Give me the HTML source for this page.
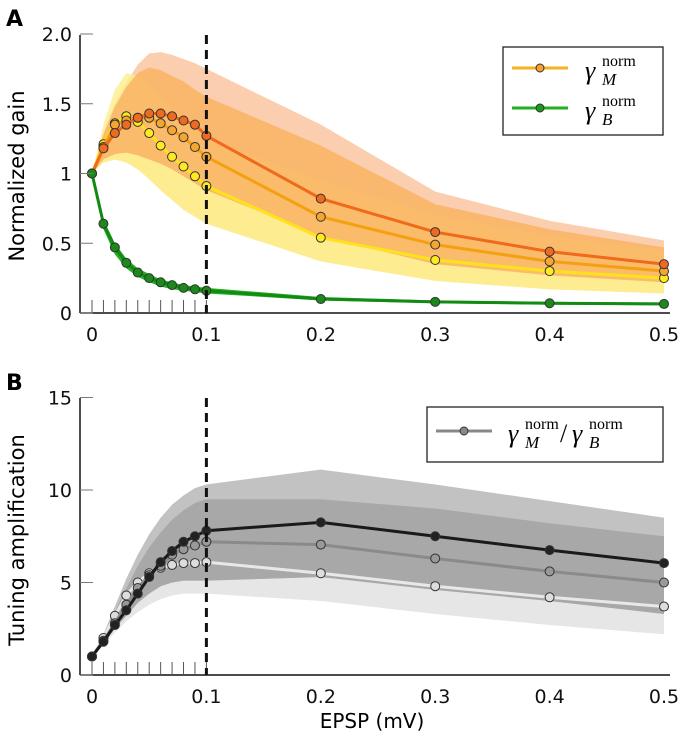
<!DOCTYPE html>
<html><head><meta charset="utf-8"><style>
body{margin:0;background:#fff}
svg{display:block;font-family:"DejaVu Sans","Liberation Sans",sans-serif}
.tk{font-size:19px;fill:#111}
</style></head><body>
<svg id="s" width="685" height="735" viewBox="0 0 685 735">
<text x="6" y="26" font-size="22" font-weight="bold">A</text>
<text x="6" y="390" font-size="22" font-weight="bold">B</text>
<g id="ga"></g>
<g id="gb"></g>
<text x="24" y="176" font-size="21" transform="rotate(-90 24 176)" text-anchor="middle">Normalized gain</text>
<text x="24" y="540" font-size="21" transform="rotate(-90 24 540)" text-anchor="middle">Tuning amplification</text>
<text x="372" y="728" font-size="20" text-anchor="middle">EPSP (mV)</text>
<g>
<rect x="503" y="47" width="160" height="88" fill="#fff" stroke="#222" stroke-width="1.3"/>
<line x1="512" y1="68" x2="568" y2="68" stroke="#f7b220" stroke-width="3"/>
<circle cx="540" cy="68" r="4" fill="#f7a030" stroke="#333"/>
<text x="585" y="79" font-family="Liberation Serif,serif" font-style="italic" font-size="26">γ</text>
<text x="602" y="85" font-family="Liberation Serif,serif" font-style="italic" font-size="17">M</text>
<text x="602" y="66" font-family="Liberation Serif,serif" font-size="16">norm</text>
<line x1="512" y1="108" x2="568" y2="108" stroke="#22b022" stroke-width="3"/>
<circle cx="540" cy="108" r="4" fill="#1a9a1a" stroke="#333"/>
<text x="585" y="119" font-family="Liberation Serif,serif" font-style="italic" font-size="26">γ</text>
<text x="602" y="125" font-family="Liberation Serif,serif" font-style="italic" font-size="17">B</text>
<text x="602" y="106" font-family="Liberation Serif,serif" font-size="16">norm</text>
</g>
<g>
<rect x="427" y="407" width="236" height="55" fill="#fff" stroke="#222" stroke-width="1.3"/>
<line x1="436" y1="431" x2="492" y2="431" stroke="#888" stroke-width="3"/>
<circle cx="464" cy="431" r="4" fill="#888" stroke="#333"/>
<text x="508" y="442" font-family="Liberation Serif,serif" font-style="italic" font-size="26">γ</text>
<text x="525" y="448" font-family="Liberation Serif,serif" font-style="italic" font-size="17">M</text>
<text x="525" y="429" font-family="Liberation Serif,serif" font-size="16">norm</text>
<text x="560" y="442" font-family="Liberation Serif,serif" font-size="26">/</text>
<text x="572" y="442" font-family="Liberation Serif,serif" font-style="italic" font-size="26">γ</text>
<text x="589" y="448" font-family="Liberation Serif,serif" font-style="italic" font-size="17">B</text>
<text x="589" y="429" font-family="Liberation Serif,serif" font-size="16">norm</text>
</g>
</svg>
<script>
const xs=[0,0.01,0.02,0.03,0.04,0.05,0.06,0.07,0.08,0.09,0.1,0.2,0.3,0.4,0.5];
const xTicks=[0,0.1,0.2,0.3,0.4,0.5];
const xTickLabels=["0","0.1","0.2","0.3","0.4","0.5"];
// Panel A
const aTicks=[0,0.5,1,1.5,2];
const aTickLabels=["0","0.5","1","1.5","2.0"];
const orangeDark=[1,1.18,1.29,1.35,1.40,1.43,1.43,1.41,1.38,1.35,1.27,0.82,0.58,0.44,0.35];
const orangeMid=[1,1.19,1.35,1.38,1.40,1.40,1.36,1.31,1.26,1.19,1.12,0.69,0.49,0.37,0.30];
const yellow=[1,1.21,1.36,1.41,1.37,1.29,1.20,1.12,1.05,0.98,0.91,0.54,0.38,0.30,0.25];
const green=[1,0.64,0.47,0.36,0.29,0.25,0.22,0.20,0.18,0.17,0.16,0.10,0.08,0.07,0.065];
const paleOrangeUp=[1,1.3,1.5,1.65,1.78,1.86,1.87,1.85,1.82,1.79,1.75,1.35,0.87,0.66,0.52];
const orangeUp=[1,1.28,1.48,1.62,1.72,1.76,1.74,1.7,1.66,1.6,1.55,1.2,0.78,0.6,0.47];
const orangeLow=[1,1.1,1.14,1.15,1.13,1.1,1.07,1.03,0.98,0.93,0.88,0.55,0.35,0.27,0.22];
const yellowUp=[1,1.35,1.6,1.72,1.7,1.64,1.55,1.47,1.4,1.33,1.25,0.95,0.7,0.55,0.45];
const yellowLow=[1,1.08,1.1,1.08,1.03,0.96,0.88,0.81,0.74,0.69,0.64,0.37,0.23,0.17,0.14];
const greenUp=[1,0.67,0.5,0.39,0.32,0.28,0.24,0.22,0.2,0.19,0.18,0.115,0.09,0.08,0.075];
const greenLow=[1,0.6,0.42,0.32,0.26,0.22,0.19,0.17,0.16,0.15,0.14,0.09,0.07,0.06,0.055];
// Panel B
const bTicks=[0,5,10,15];
const bTickLabels=["0","5","10","15"];
const ampDark=[1,1.8,2.7,3.5,4.4,5.3,6.1,6.7,7.2,7.5,7.8,8.25,7.5,6.75,6.05];
const ampMid=[1,1.85,2.8,3.8,4.7,5.4,5.9,6.5,6.8,7.0,7.2,7.05,6.3,5.6,5.0];
const ampLight=[1,2.0,3.2,4.3,5.0,5.5,5.8,5.95,6.05,6.05,6.1,5.5,4.8,4.2,3.7];
const ampOuterUp=[1,2.2,3.7,5.2,6.5,7.6,8.5,9.2,9.7,10.1,10.3,11.1,10.3,9.4,8.5];
const ampInnerUp=[1,2.1,3.4,4.7,5.9,6.9,7.7,8.4,8.9,9.3,9.5,9.5,9.0,8.2,7.5];
const ampInnerLow=[1,1.7,2.5,3.2,3.9,4.4,4.8,5.0,5.1,5.1,5.1,5.3,4.6,4.0,3.3];
const ampOuterLow=[1,1.6,2.3,2.9,3.4,3.8,4.1,4.3,4.4,4.4,4.4,4.0,3.3,2.7,2.2];

const NS="http://www.w3.org/2000/svg";
const X=v=>92+v*1144;
const YA=v=>313-v*139.5;
const YB=v=>675-v*18.5;
function mk(p,t,a){const e=document.createElementNS(NS,t);for(const k in a)e.setAttribute(k,a[k]);p.appendChild(e);return e;}
function band(g,up,lo,Y,fill,name){
  let d=xs.map((x,i)=>(i?'L':'M')+X(x)+','+Y(up[i])).join('')+xs.slice().reverse().map((x,j)=>{const i=xs.length-1-j;return 'L'+X(x)+','+Y(lo[i]);}).join('')+'Z';
  const e=mk(g,'path',{d:d,fill:fill});
  
  
}
function series(g,vals,Y,stroke,dot,name){
  const e=mk(g,'path',{d:xs.map((x,i)=>(i?'L':'M')+X(x)+','+Y(vals[i])).join(''),fill:'none',stroke:stroke,'stroke-width':3});
  
  
  xs.forEach((x,i)=>{const c=mk(g,'circle',{cx:X(x),cy:Y(vals[i]),r:4.5,fill:dot,stroke:'#333','stroke-width':1});
    
    });
}
function axes(g,Y,ticks,labels,top){
  mk(g,'line',{x1:80,y1:top,x2:80,y2:Y(0),stroke:'#111','stroke-width':1.5});
  mk(g,'line',{x1:80,y1:Y(0),x2:670,y2:Y(0),stroke:'#111','stroke-width':1.5});
  ticks.forEach((t,i)=>{mk(g,'line',{x1:80,y1:Y(t),x2:93,y2:Y(t),stroke:'#777','stroke-width':1});
    const tx=mk(g,'text',{x:72,y:Y(t)+7,'text-anchor':'end','class':'tk'});tx.textContent=labels[i];
    
    });
  xTicks.forEach((t,i)=>{const tx=mk(g,'text',{x:X(t),y:Y(0)+28,'text-anchor':'middle','class':'tk'});tx.textContent=xTickLabels[i];
    
    });
  xs.slice(0,11).forEach(x=>mk(g,'line',{x1:X(x),y1:Y(0),x2:X(x),y2:Y(0)-13,stroke:'#555','stroke-width':1}));
  const dl=mk(g,'line',{x1:X(0.1),y1:top,x2:X(0.1),y2:Y(0),stroke:'#111','stroke-width':3,'stroke-dasharray':'9,6'});
  
  
}
const ga=document.getElementById('ga');
band(ga,paleOrangeUp,yellowLow,YA,'#fde7a0','yellow-outer-band');
band(ga,paleOrangeUp,orangeLow,YA,'#fbceb0','orange-outer-band');
band(ga,yellowUp,yellowLow,YA,'rgba(253,238,140,0.8)','yellow-band');
band(ga,orangeUp,orangeLow,YA,'rgba(249,180,100,0.85)','orange-band');
band(ga,greenUp,greenLow,YA,'#22b022','green-band');
series(ga,yellow,YA,'#ffe21a','#ffea20','yellow');
series(ga,orangeMid,YA,'#f5a010','#f6a530','orange-mid');
series(ga,orangeDark,YA,'#ef6a1a','#ee6a20','orange-dark');
series(ga,green,YA,'#138a13','#1a8a1a','green');
axes(ga,YA,aTicks,aTickLabels,35);
const gb=document.getElementById('gb');
band(gb,ampOuterUp,ampOuterLow,YB,'#e6e6e6','amp-outer-band');
band(gb,ampOuterUp,ampInnerLow,YB,'#c2c2c2','amp-mid-band');
band(gb,ampInnerUp,ampInnerLow,YB,'#a8a8a8','amp-inner-band');
series(gb,ampLight,YB,'#e8e8e8','#ddd','amp-light');
series(gb,ampMid,YB,'#8a8a8a','#999','amp-mid');
series(gb,ampDark,YB,'#1a1a1a','#222','amp-dark');
axes(gb,YB,bTicks,bTickLabels,398);
</script>
</body></html>
